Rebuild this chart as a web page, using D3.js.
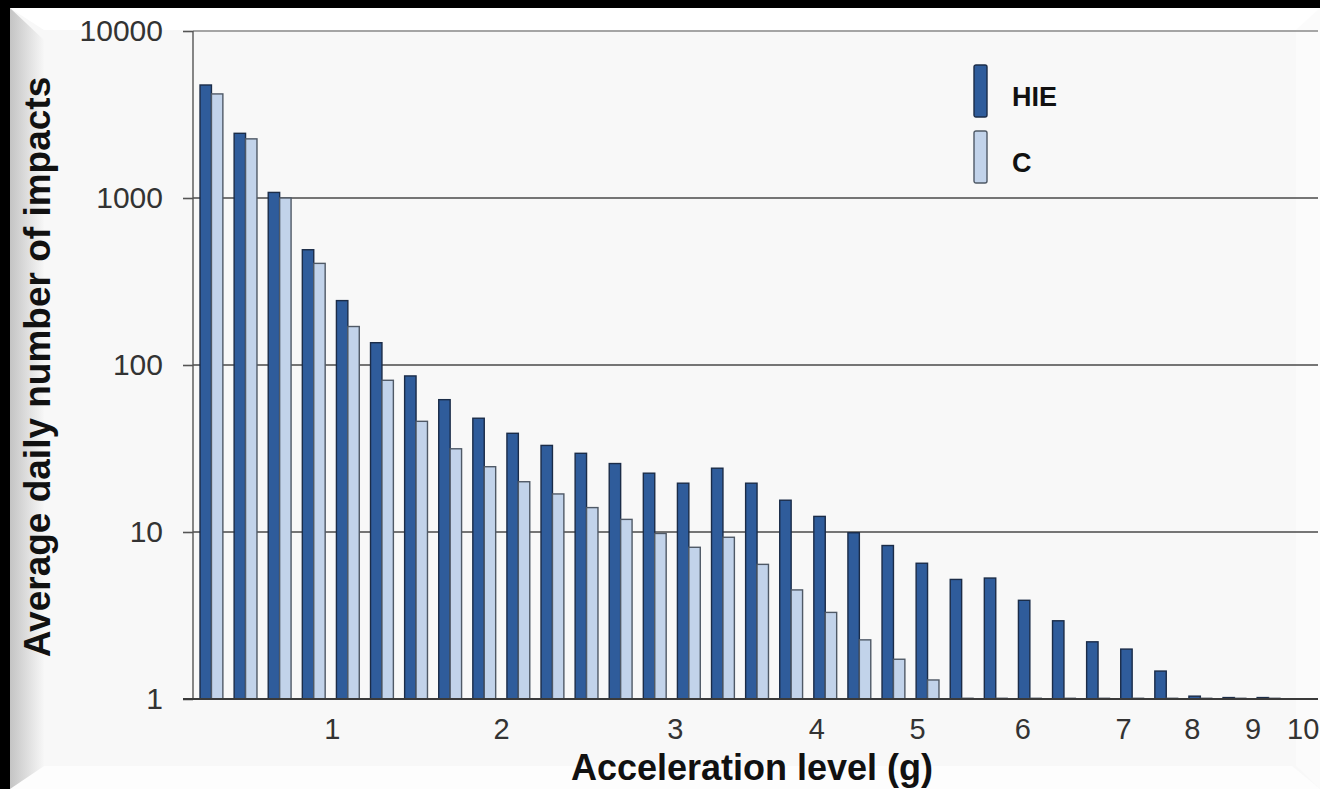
<!DOCTYPE html>
<html>
<head>
<meta charset="utf-8">
<script src="https://cdn.jsdelivr.net/npm/d3@7"></script>
<style>
    html, body { margin: 0; padding: 0; background: #000; }
    svg { display: block; font-family: "Liberation Sans", Arial, sans-serif; }
</style>
</head>
<body>
<div id="chart"></div>
<script>
const width = 1320;
const height = 789;

// DATA (32 acceleration bins, log-scale counts)
const hieValues = [4750, 2440, 1080, 490, 243, 136, 86, 62, 48, 39, 33, 29.6, 25.7, 22.5, 19.6, 24.1,
    19.6, 15.5, 12.4, 9.9, 8.3, 6.5, 5.2, 5.3, 3.9, 2.94, 2.2, 1.99, 1.47, 1.04, 1.02, 1.02];
const cValues = [4200, 2260, 1000, 406, 170, 81, 46, 31.5, 24.6, 20, 16.9, 14, 11.9, 9.8, 8.1, 9.3,
    6.4, 4.5, 3.3, 2.26, 1.73, 1.3, 1.01, 1.01, 1.01, 1.01, 1.01, 1.01, 1.01, 1.01, 1.01, 1.01];
const series = ["HIE", "C"];
const colors = { HIE: "#2f5c9b", C: "#c2d3ea" };
const strokes = { HIE: "#1b2c48", C: "#4f5966" };
const yTicks = [1, 10, 100, 1000, 10000];
const xTickLabels = ["1", "2", "3", "4", "5", "6", "7", "8", "9", "10"];
const xTickPos = [4.03, 8.99, 14.09, 18.24, 21.19, 24.28, 27.23, 29.25, 31.03, 32.5];

const plot = { left: 193, right: 1318, top: 31, bottom: 699 };

const data = hieValues.map((v, i) => ({ i, HIE: v, C: cValues[i] }));

const svg = d3.select("#chart")
    .append("svg")
    .attr("width", width)
    .attr("height", height);

////////////////////////////////////////////////////////
// BACKGROUND PANEL
////////////////////////////////////////////////////////

const defs = svg.append("defs");
const leftGrad = defs.append("linearGradient").attr("id", "leftBevel")
    .attr("x1", 0).attr("x2", 1).attr("y1", 0).attr("y2", 0);
leftGrad.append("stop").attr("offset", "0%").attr("stop-color", "#c4c4c4");
leftGrad.append("stop").attr("offset", "100%").attr("stop-color", "#f7f7f7");

svg.append("rect")
    .attr("x", 0).attr("y", 0)
    .attr("width", width).attr("height", height)
    .attr("fill", "#000");

svg.append("rect")
    .attr("x", 10).attr("y", 8)
    .attr("width", width - 10).attr("height", height - 8)
    .attr("fill", "#f8f8f8");

// top bevel
svg.append("polygon")
    .attr("points", "10,8 1320,8 1320,30 44,30")
    .attr("fill", "#ffffff");

// bottom bevel
svg.append("polygon")
    .attr("points", "10,789 1320,789 1292,766 44,766")
    .attr("fill", "#fdfdfd");

// right bevel
svg.append("polygon")
    .attr("points", "1320,8 1320,789 1296,766 1296,30")
    .attr("fill", "#fbfbfb");

// left bevel
svg.append("polygon")
    .attr("points", "10,8 44,40 44,766 10,789")
    .attr("fill", "url(#leftBevel)");

////////////////////////////////////////////////////////
// SCALES
////////////////////////////////////////////////////////

const x = d3.scaleBand()
    .domain(d3.range(data.length))
    .range([194.4, 194.4 + 34.1 * data.length])
    .paddingInner(0.33)
    .paddingOuter(0.165);

const xSub = d3.scaleBand()
    .domain(series)
    .range([0, x.bandwidth()]);

const xPos = d3.scaleLinear()
    .domain([0, data.length])
    .range([194.4, 194.4 + 34.1 * data.length]);

const y = d3.scaleLog()
    .domain([1, 10000])
    .range([plot.bottom, plot.top]);

////////////////////////////////////////////////////////
// GRID
////////////////////////////////////////////////////////

svg.append("g")
    .selectAll("line")
    .data(yTicks.filter(d => d > 1))
    .enter()
    .append("line")
    .attr("x1", plot.left)
    .attr("x2", plot.right)
    .attr("y1", d => y(d))
    .attr("y2", d => y(d))
    .attr("stroke", d => d === 10000 ? "#8a8a8a" : "#4a4a4a")
    .attr("stroke-width", 1.6);

////////////////////////////////////////////////////////
// BARS
////////////////////////////////////////////////////////

const groups = svg.append("g")
    .selectAll("g")
    .data(data)
    .enter()
    .append("g")
    .attr("transform", d => `translate(${x(d.i)},0)`);

groups.selectAll("rect")
    .data(d => series.map(k => ({ key: k, value: d[k] })))
    .enter()
    .append("rect")
    .attr("x", d => xSub(d.key))
    .attr("y", d => y(d.value))
    .attr("width", xSub.bandwidth())
    .attr("height", d => y(1) - y(d.value))
    .attr("fill", d => colors[d.key])
    .attr("stroke", d => strokes[d.key])
    .attr("stroke-width", 1.4);

////////////////////////////////////////////////////////
// AXES
////////////////////////////////////////////////////////

const yAxis = svg.append("g")
    .attr("transform", `translate(${plot.left},0)`)
    .call(d3.axisLeft(y)
        .tickValues(yTicks)
        .tickFormat(d3.format("d"))
        .tickSize(10)
        .tickPadding(20));

yAxis.select(".domain")
    .attr("stroke", "#555")
    .attr("stroke-width", 1.4)
    .attr("d", `M0,${plot.top}V${plot.bottom}`);

yAxis.selectAll(".tick line")
    .attr("stroke", "#555")
    .attr("stroke-width", 1.6);

yAxis.selectAll(".tick text")
    .attr("fill", "#333")
    .style("font-size", "30px")
    .style("font-family", "Liberation Sans, Arial, sans-serif");

// baseline
svg.append("line")
    .attr("x1", plot.left - 10)
    .attr("x2", plot.right)
    .attr("y1", y(1))
    .attr("y2", y(1))
    .attr("stroke", "#3a3a3a")
    .attr("stroke-width", 2);

const xAxis = svg.append("g")
    .attr("transform", `translate(0,${plot.bottom})`)
    .call(d3.axisBottom(xPos)
        .tickValues(xTickPos)
        .tickFormat((d, i) => xTickLabels[i])
        .tickSize(0)
        .tickPadding(19));

xAxis.select(".domain").remove();

xAxis.selectAll(".tick text")
    .attr("fill", "#333")
    .style("font-size", "29px")
    .style("font-family", "Liberation Sans, Arial, sans-serif");

////////////////////////////////////////////////////////
// LABELS
////////////////////////////////////////////////////////

svg.append("text")
    .attr("transform", "rotate(-90)")
    .attr("x", -367)
    .attr("y", 50)
    .attr("text-anchor", "middle")
    .style("font-size", "37px")
    .style("font-weight", "bold")
    .attr("fill", "#111")
    .text("Average daily number of impacts");

svg.append("text")
    .attr("x", 752)
    .attr("y", 780)
    .attr("text-anchor", "middle")
    .style("font-size", "36px")
    .style("font-weight", "bold")
    .attr("fill", "#111")
    .text("Acceleration level (g)");

////////////////////////////////////////////////////////
// LEGEND
////////////////////////////////////////////////////////

const legend = svg.append("g")
    .selectAll("g")
    .data(series)
    .enter()
    .append("g")
    .attr("transform", (d, i) => `translate(974,${65 + i * 66})`);

legend.append("rect")
    .attr("width", 13)
    .attr("height", 52)
    .attr("rx", 2)
    .attr("fill", d => colors[d])
    .attr("stroke", d => strokes[d])
    .attr("stroke-width", 1.4);

legend.append("text")
    .attr("x", 38)
    .attr("y", 41)
    .style("font-size", "27px")
    .style("font-weight", "bold")
    .attr("fill", "#111")
    .text(d => d);
</script>
</body>
</html>
